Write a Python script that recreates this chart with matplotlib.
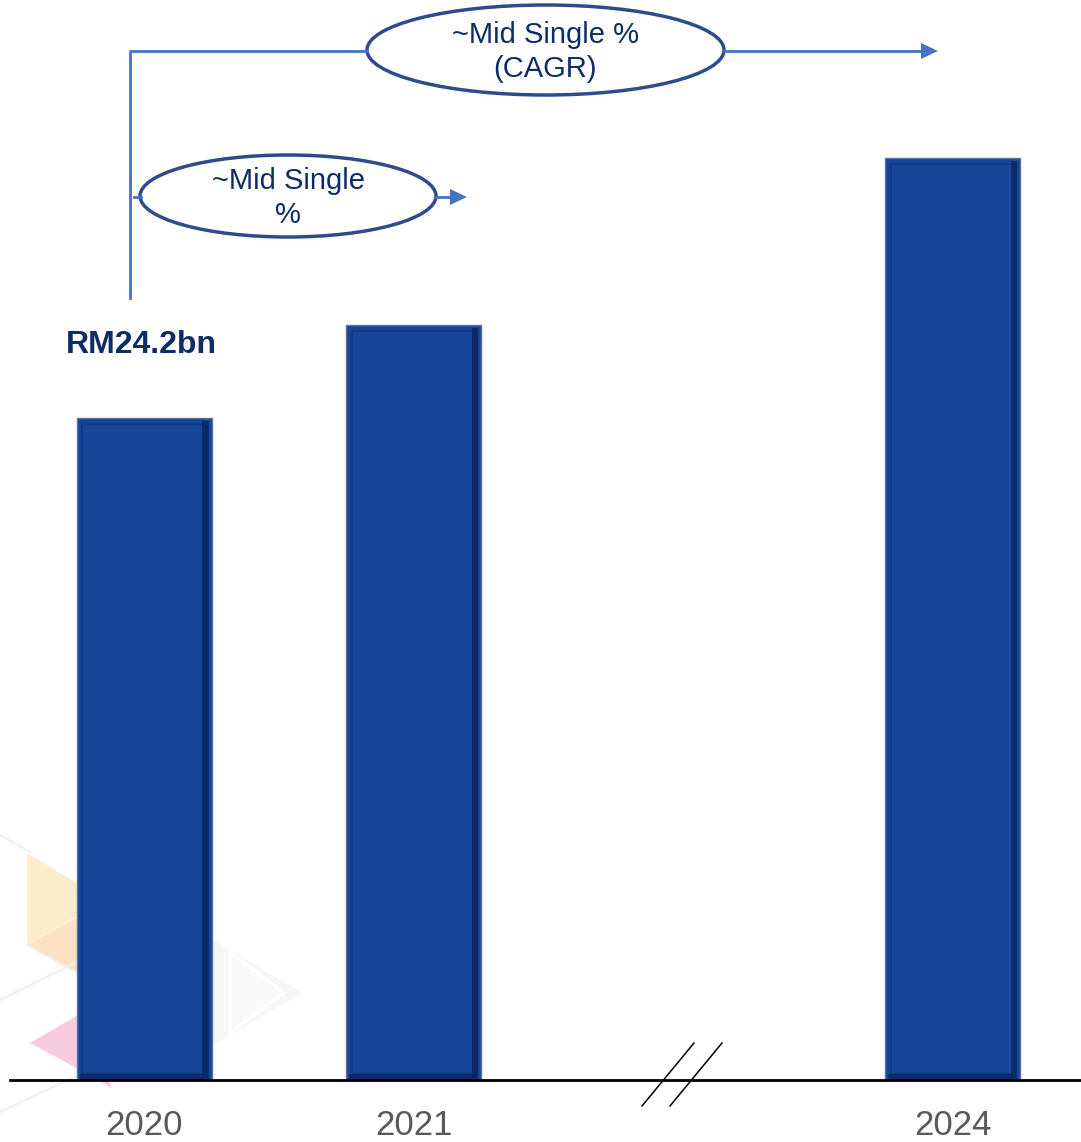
import matplotlib
matplotlib.use("Agg")
import matplotlib.pyplot as plt
from matplotlib.patches import Ellipse, Polygon, Rectangle

plt.rcParams['font.family'] = ['Liberation Sans', 'DejaVu Sans']

# Revenue by year (RM bn); positions leave a gap for the axis break before 2024
years = ['2020', '2021', '2024']
positions = [0, 1, 3]
revenue = [24.2, 27.6, 33.7]
first_label = 'RM24.2bn'
short_growth = '~Mid Single\n%'
long_growth = '~Mid Single %\n(CAGR)'

W, H = 1081, 1142
fig = plt.figure(figsize=(W / 100, H / 100), dpi=100)

# Background decoration layer (pixel coordinates)
bg = fig.add_axes([0, 0, 1, 1], zorder=0)
bg.set_xlim(0, W)
bg.set_ylim(H, 0)
bg.axis('off')
for pts, col in [
    ([(27, 853), (27, 945), (105, 900)], '#FDEDCB'),
    ([(27, 945), (80, 916), (80, 974)], '#FCE1C4'),
    ([(30, 1043), (80, 1014), (112, 1088), (80, 1070)], '#F7CCDF'),
    ([(205, 935), (302, 993), (205, 1050)], '#F6F6F6'),
]:
    bg.add_patch(Polygon(pts, closed=True, facecolor=col, edgecolor='none'))
bg.add_patch(Polygon([(230, 952), (284, 993), (230, 1033)], closed=True,
                     facecolor='#F9F9F9', edgecolor='white', lw=2))
for xs, ys in [((0, 30), (835, 852)), ((0, 77), (1000, 962)),
               ((0, 110), (1112, 1060)), ((27, 100), (945, 985))]:
    bg.plot(xs, ys, color='#EFEFEF', lw=1.5)

# Main bar chart
ax = fig.add_axes([10 / W, (H - 1080) / H, (W - 10) / W, 1080 / H], zorder=1)
ax.patch.set_alpha(0)
bar_w = 0.5
ax.set_xlim(-0.498, 3.476)
ax.set_ylim(0, 39.47)
bars = ax.bar(positions, revenue, width=bar_w, color='#17459A',
              edgecolor='#5A72A8', linewidth=1.0, zorder=2)
# bevelled look: subtle inner frame and shaded right/bottom edges
for b in bars:
    x0, w, h = b.get_x(), b.get_width(), b.get_height()
    ax.add_patch(Rectangle((x0 + 0.02, 0.22), w - 0.04, h - 0.45,
                           facecolor='none', edgecolor='#123A86', lw=1.5, zorder=3))
    ax.add_patch(Rectangle((x0 + w - 0.035, 0.12), 0.025, h - 0.25,
                           facecolor='#0B245C', edgecolor='none', alpha=0.75, zorder=3))
    ax.add_patch(Rectangle((x0 + 0.01, 0.04), w - 0.02, 0.18,
                           facecolor='#0B245C', edgecolor='none', alpha=0.75, zorder=3))

ax.annotate(first_label, xy=(positions[0], revenue[0]), xytext=(-3, 73),
            textcoords='offset pixels', ha='center', va='center',
            fontsize=23, fontweight='bold', color='#0E2C68', zorder=4)

ax.set_xticks(positions)
ax.set_xticklabels(years, fontsize=25, color='#595959')
ax.tick_params(axis='x', length=0, pad=21)
ax.set_yticks([])
for s in ['top', 'right', 'left']:
    ax.spines[s].set_visible(False)
ax.spines['bottom'].set_color('black')
ax.spines['bottom'].set_linewidth(2)

# Annotation layer (pixel coordinates)
ov = fig.add_axes([0, 0, 1, 1], zorder=2)
ov.patch.set_alpha(0)
ov.set_xlim(0, W)
ov.set_ylim(H, 0)
ov.axis('off')

line_c = '#4472C4'
ell_c = '#2D4C8C'
txt_c = '#0E2C68'

# axis break marks
ov.plot([642, 694], [1106, 1043], color='black', lw=1.1)
ov.plot([670, 722], [1106, 1043], color='black', lw=1.1)

# long-term growth bracket
ov.plot([130, 130, 367], [298, 51, 51], color=line_c, lw=2)
ov.plot([724, 922], [51, 51], color=line_c, lw=2)
ov.add_patch(Polygon([(921, 43), (938, 51), (921, 59)], closed=True,
                     facecolor=line_c, edgecolor='none'))
ov.add_patch(Ellipse((545.5, 50), 357, 90, facecolor='white',
                     edgecolor=ell_c, lw=2.5))
ov.text(545, 52, long_growth, ha='center', va='center', fontsize=21,
        color=txt_c, linespacing=1.3)

# short-term growth marker
ov.plot([134, 141], [197, 197], color=line_c, lw=2)
ov.plot([435, 452], [197, 197], color=line_c, lw=2)
ov.add_patch(Polygon([(450, 189), (467, 197), (450, 205)], closed=True,
                     facecolor=line_c, edgecolor='none'))
ov.add_patch(Ellipse((288, 196), 296, 82, facecolor='white',
                     edgecolor=ell_c, lw=2.5))
ov.text(288, 198, short_growth, ha='center', va='center', fontsize=21,
        color=txt_c, linespacing=1.3)

fig.savefig('out.png', dpi=100)
